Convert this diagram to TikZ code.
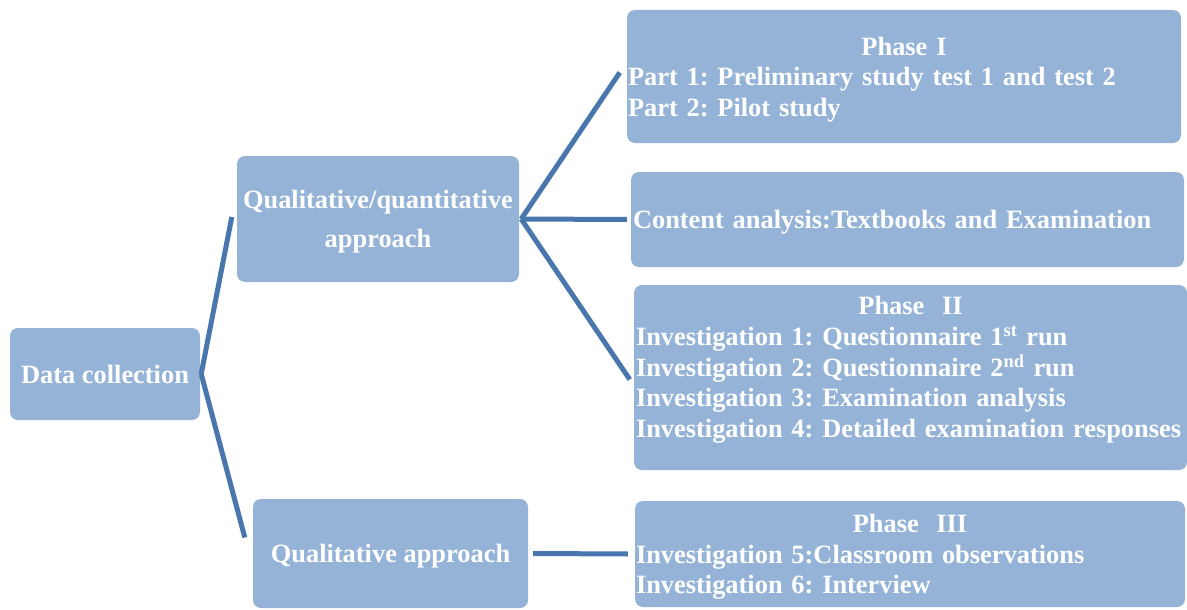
\documentclass[tikz,border=0pt]{standalone}
\usepackage{fontspec}
\setmainfont{Liberation Serif}
\frenchspacing
\definecolor{boxblue}{HTML}{95B3D7}
\definecolor{lineblue}{HTML}{4A76AE}
\newcommand{\topstrut}{\rule{0pt}{24pt}}
\tikzset{
  box/.style={rectangle, rounded corners=8pt, fill=boxblue, text=white, inner sep=0pt,
    font=\fontsize{26.4}{30.6}\selectfont\bfseries},
  flat/.style={text depth=0pt},
  link/.style={draw=lineblue, line width=5pt}
}
\begin{document}
\begin{tikzpicture}[x=1pt, y=-1pt]
\useasboundingbox (0,0) rectangle (1187,610);
% left column
\node[box, flat, minimum width=190pt, minimum height=92pt] (dc) at (105,374) {Data collection};
% middle column
\node[box, flat, minimum width=282pt, minimum height=126pt, align=center] (qq) at (378,219) {Qualitative/quantitative\\[8.4pt]approach};
\node[box, flat, minimum width=275pt, minimum height=109pt] (ql) at (390.5,553.5) {Qualitative approach};
% right column
\node[box, minimum width=554pt, minimum height=133pt, text width=552pt, align=left] (ph1) at (904,76.5)
  {\makebox[552pt]{\topstrut Phase I}\\Part 1: Preliminary study test 1 and test 2\\Part 2: Pilot study};
\node[box, flat, minimum width=553pt, minimum height=95pt, text width=549pt, align=left] (ca) at (907.5,219.5)
  {Content analysis:Textbooks and Examination};
\node[box, minimum width=553pt, minimum height=185pt, text width=549pt, align=left] (ph2) at (910.5,377.5)
  {\makebox[549pt]{Phase~~II}\\Investigation 1: Questionnaire 1\textsuperscript{st} run\\Investigation 2: Questionnaire 2\textsuperscript{nd} run\\Investigation 3: Examination analysis\\Investigation 4: Detailed examination responses\rule[-21pt]{0pt}{21pt}};
\node[box, minimum width=550pt, minimum height=106pt, text width=548pt, align=left] (ph3) at (910,554)
  {\makebox[548pt]{\topstrut Phase~~III}\\Investigation 5:Classroom observations\\Investigation 6: Interview};
% connectors
\draw[link] ([xshift=1pt]dc.east) -- ([xshift=-5pt,yshift=2pt]qq.west);
\draw[link] ([xshift=1pt]dc.east) -- ([xshift=-8pt,yshift=16pt]ql.west);
\draw[link] ([xshift=2pt]qq.east) -- ([xshift=-7pt,yshift=4pt]ph1.west);
\draw[link] ([xshift=2pt]qq.east) -- ([xshift=-4pt]ca.west);
\draw[link] ([xshift=2pt]qq.east) -- ([xshift=-4pt,yshift=-2pt]ph2.west);
\draw[link] ([xshift=5pt]ql.east) -- ([xshift=-7pt]ph3.west);
\end{tikzpicture}
\end{document}
